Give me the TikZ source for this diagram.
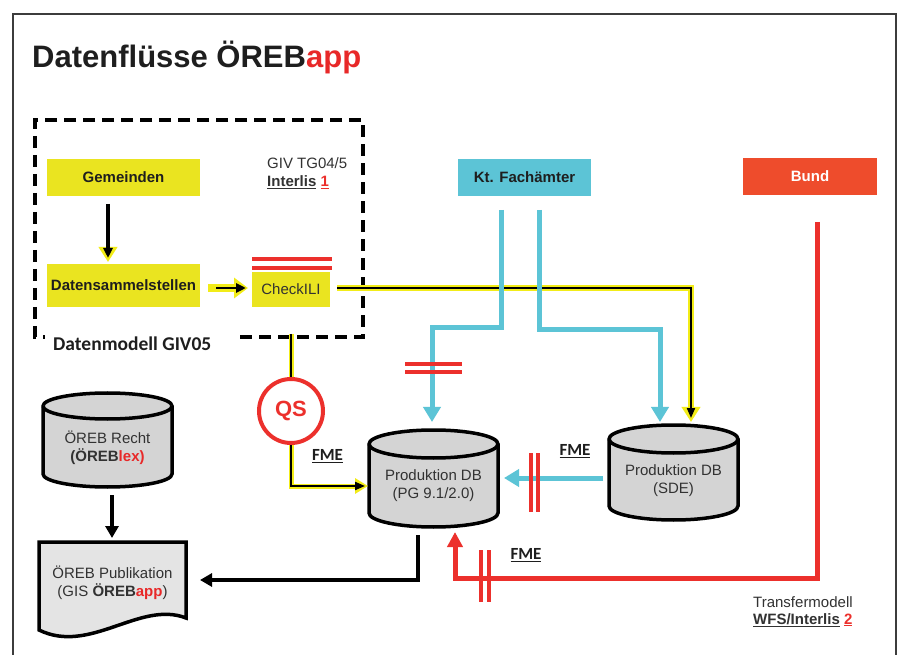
\documentclass[tikz,border=0pt]{standalone}
\usepackage{fontspec}
\setmainfont{Liberation Sans}
\newfontfamily\carl{Carlito}
\usetikzlibrary{arrows.meta,calc}
\definecolor{ybox}{RGB}{234,228,32}
\definecolor{yline}{RGB}{242,236,24}
\definecolor{cyanc}{RGB}{92,196,214}
\definecolor{redl}{RGB}{236,48,44}
\definecolor{bundc}{RGB}{238,76,44}
\definecolor{txt}{RGB}{30,30,30}
\definecolor{txtg}{RGB}{50,50,50}
\definecolor{cylg}{RGB}{212,212,212}
\definecolor{docg}{RGB}{228,228,228}
\definecolor{redt}{RGB}{232,40,40}
\definecolor{framec}{RGB}{60,60,60}
\newcommand\fs{\fontsize{15}{18}\selectfont}
\newcommand\dbcyl[6]{%
  \filldraw[cylline] (#2-#5,#3+#6) -- (#2-#5,#4-#6)
    arc[start angle=180,end angle=360,x radius=#5pt,y radius=#6pt]
    -- (#2+#5,#3+#6)
    arc[start angle=0,end angle=180,x radius=#5pt,y radius=#6pt] -- cycle;
  \draw[cylline] (#2-#5,#3+#6) arc[start angle=180,end angle=360,x radius=#5pt,y radius=#6pt];
  \node[inner sep=0,minimum width={2*#5pt},minimum height={(#4-#3)*1pt}] (#1) at (#2,{(#3+#4)/2}) {};
}
\tikzset{
  fbox/.style={inner sep=0, font=\fs\bfseries, text=txt},
  ctext/.style={inner sep=0, font=\fs, text=txtg, align=center},
  cylline/.style={draw=black, fill=cylg, line width=3.5pt},
  cy/.style={draw=cyanc, line width=5pt, -{Triangle[length=15pt,width=17pt]}},
  rd/.style={draw=redl, line width=5pt, -{Triangle[length=15pt,width=15pt]}},
  bk/.style={draw=black, line width=4pt, -{Triangle[length=12pt,width=13pt]}},
  barr/.style={draw=redl, line width=4pt},
  fme/.style={inner sep=0, font=\carl\bfseries\fontsize{17}{19}\selectfont, text=txt},
}
\begin{document}
\begin{tikzpicture}[x=1pt,y=-1pt]
\useasboundingbox (0,0) rectangle (898,655);
\fill[white] (0,0) rectangle (898,655);
\draw[framec, line width=1.5pt] (13,655) -- (13,14) -- (896,14) -- (896,655);

% title
\node[anchor=base west, inner sep=0, font=\fontsize{31}{36}\selectfont\bfseries, text=txt] (title) at (32,68) {Datenflüsse ÖREB\textcolor{redt}{app}};

% dashed group
\draw[black, line width=4pt, dash pattern=on 12pt off 7pt] (240,337) -- (363,337) -- (363,120) -- (35,120) -- (35,337) -- (45,337);
\node[anchor=west, inner sep=0, font=\carl\bfseries\fontsize{19.5}{22}\selectfont, text=txt] (dm) at (53,344) {Datenmodell GIV05};

% boxes
\node[fbox, fill=ybox, minimum width=153pt, minimum height=37pt] (gem) at (123.5,177.5) {Gemeinden};
\node[fbox, fill=ybox, minimum width=153pt, minimum height=43pt] (dss) at (123.5,285.5) {Datensammelstellen};
\node[inner sep=0, fill=ybox, font=\fs, text=txtg, minimum width=78pt, minimum height=35pt] (chk) at (291,289.5) {CheckILI};
\draw[barr] (252,259) -- (332,259);
\draw[barr] (252,268) -- (332,268);
\node[anchor=west, inner sep=0, font=\fs, text=txtg] (giv) at (267,163) {GIV TG04/5};
\node[anchor=west, inner sep=0, font=\fs\bfseries, text=txtg] (il1) at (267,182) {\underline{Interlis} \textcolor{redl}{\underline{1}}};

\node[fbox, fill=cyanc, minimum width=133pt, minimum height=37pt] (kt) at (524.5,177.5) {Kt. Fachämter};
\node[fbox, fill=bundc, text=white, minimum width=134pt, minimum height=37pt] (bund) at (810,176.5) {Bund};

% cylinders
\dbcyl{recht}{107.5}{393}{487}{64.5}{13}
\node[ctext] (rechtT) at (107.5,447.5) {ÖREB Recht\\\textbf{(ÖREB\textcolor{redt}{lex}\textcolor{redt}{)}}};
\dbcyl{pg}{433.5}{430}{527}{64.5}{14}
\node[ctext] (pgT) at (433.5,486) {Produktion DB\\(PG 9.1/2.0)};
\dbcyl{sde}{673.5}{425}{520}{64.5}{14}
\node[ctext] (sdeT) at (673.5,480.5) {Produktion DB\\(SDE)};

% document
\filldraw[draw=black, fill=docg, line width=3.5pt] (39,542) -- (186,542) -- (186,618) .. controls (140,600) and (90,655) .. (39,630) -- cycle;
\node[inner sep=0, minimum width=147pt, minimum height=90pt] (pub) at (112.5,587) {};
\node[ctext] (pubT) at (112.5,582.5) {ÖREB Publikation\\(GIS \textbf{ÖREB\textcolor{redt}{app}})};

% QS
\node[circle, draw=redl, line width=4pt, fill=white, minimum size=64pt, inner sep=0, font=\fontsize{22}{24}\selectfont\bfseries, text=redl] (qs) at (291,411) {QS};

% coordinates
\coordinate (gemOut) at (108,204);
\coordinate (dssIn) at (108,262);
\coordinate (dssOut) at (208,288);
\coordinate (chkIn) at (248,288);
\coordinate (chkOut) at (337,288);
\coordinate (sdeIn2) at (691,422);
\coordinate (chkDown) at (291,334);
\coordinate (pgLeft) at (368,486);
\coordinate (k1) at (501,210);
\coordinate (c1) at (501,328);
\coordinate (pgTop) at (432,422);
\coordinate (k2) at (539,210);
\coordinate (c2) at (539,330);
\coordinate (sdeIn1) at (660,422);
\coordinate (sdeLeft) at (603,478);
\coordinate (pgRight) at (504,478);
\coordinate (bundDown) at (817,222);
\coordinate (rc) at (817,578);
\coordinate (pgBot) at (455,532);
\coordinate (pgOut) at (418,535);
\coordinate (pubIn) at (200,580);
\coordinate (rechtOut) at (112,495);
\coordinate (pubTop) at (112,538);

% yellow/black connectors
\draw[draw=yline, line width=4pt, -{Triangle[length=15pt,width=18pt]}] (gemOut) -- (dssIn);
\draw[draw=black, line width=4pt, -{Triangle[length=10pt,width=9pt]}, shorten >=4pt] (gemOut) -- (dssIn);

\draw[draw=yline, line width=8pt, -{Triangle[length=14pt,width=20pt]}] (dssOut) -- (chkIn);
\draw[draw=black, line width=2.5pt, -{Triangle[length=10pt,width=9pt]}, shorten >=2pt] ($(dssOut)+(8,0)$) -- (chkIn);

\draw[draw=yline, line width=5.5pt, -{Triangle[length=15pt,width=18pt]}] (chkOut) -| (sdeIn2);
\draw[draw=black, line width=2pt, -{Triangle[length=10pt,width=8pt]}, shorten >=4pt] (chkOut) -| (sdeIn2);

\draw[draw=yline, line width=5pt] (chkDown) -- (qs.north);
\draw[draw=black, line width=2pt] (chkDown) -- (qs.north);
\draw[draw=yline, line width=5pt, -{Triangle[length=13pt,width=15pt]}] (qs.south) |- (pgLeft);
\draw[draw=black, line width=2pt, -{Triangle[length=10pt,width=8pt]}, shorten >=3pt] (qs.south) |- (pgLeft);

% cyan connectors
\draw[cy] (k1) -- (c1) -| (pgTop);
\draw[cy] (k2) -- (c2) -| (sdeIn1);
\draw[cy] (sdeLeft) -- (pgRight);

% red connector
\draw[rd] (bundDown) -- (rc) -| (pgBot);

% black connectors
\draw[bk] (pgOut) |- (pubIn);
\draw[bk] (rechtOut) -- (pubTop);

% bars
\draw[barr] (405,364) -- (462,364);
\draw[barr] (405,372) -- (462,372);
\draw[barr] (531,453) -- (531,512);
\draw[barr] (538,453) -- (538,512);
\draw[barr] (481,550) -- (481,602);
\draw[barr] (489,550) -- (489,602);

% FME labels
\node[fme] (fme1) at (327.5,456) {\underline{FME}};
\node[fme] (fme2) at (575,451) {\underline{FME}};
\node[fme] (fme3) at (526,555) {\underline{FME}};

% transfer model
\node[anchor=west, inner sep=0, font=\fs, text=txtg] (tm) at (753,602) {Transfermodell};
\node[anchor=west, inner sep=0, font=\fs\bfseries, text=txtg] (wfs) at (753,620) {\underline{WFS/Interlis} \textcolor{redl}{\underline{2}}};
\end{tikzpicture}
\end{document}
